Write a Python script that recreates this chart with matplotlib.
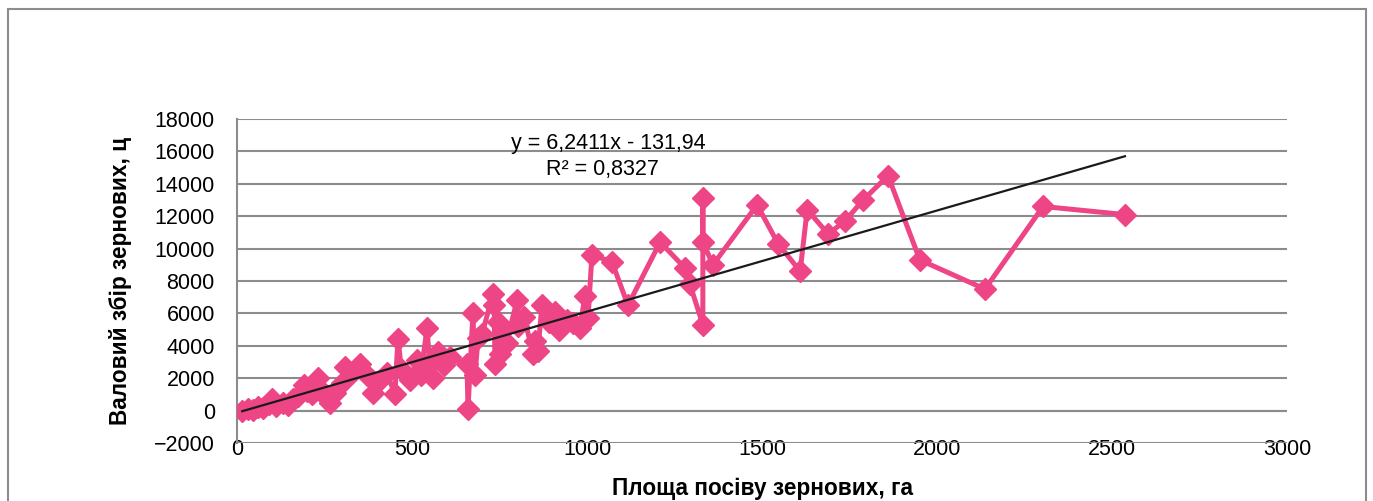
import numpy as np
import matplotlib.pyplot as plt
from matplotlib.patches import Rectangle

plt.rcParams['font.family'] = ['Liberation Sans', 'DejaVu Sans']

# площа посіву (га) і валовий збір (ц), у порядку рядків таблиці
area = [15, 30, 45, 60, 75, 90, 100, 110, 130, 145, 160, 175, 190, 200, 215,
        231, 240, 250, 266, 280, 300,
        309, 330, 351, 370, 389, 400, 429, 451, 460, 470, 494, 514, 525, 543,
        550, 560, 574, 590, 609,
        657, 660, 674, 680, 689, 700, 731, 735, 737, 745, 750, 760, 770, 800,
        803, 820, 846, 850, 860, 871, 890, 909, 920, 943, 960, 980, 994, 1003,
        1014,
        1071, 1117, 1209, 1280, 1294, 1331, 1331, 1331, 1360, 1486, 1546, 1609,
        1629, 1689, 1737, 1789, 1860, 1951, 2137, 2303, 2537]
harvest = [0, 100, 50, 200, 150, 400, 700, 300, 450, 350, 700, 900, 1600, 1200,
           1000, 2000, 1300, 900, 500, 1100, 1700,
           2700, 2400, 2900, 2200, 1100, 1700, 2300, 1000, 4450, 2500, 1900,
           3100, 2200, 5100, 3000, 2000, 3600, 2800, 3300,
           2900, 100, 6000, 2200, 4500, 4700, 7200, 6500, 2900, 5500, 3500,
           5000, 4200, 6800, 5200, 5800, 3500, 4300, 3700, 6500, 5500, 6100,
           5000, 5600, 5400, 5100, 7100, 5700, 9600,
           9200, 6500, 10400, 8800, 7800, 5300, 13100, 10400, 9000, 12700,
           10300, 8600, 12400, 10900, 11700, 13000, 14500, 9300, 7500, 12600,
           12100]

# лінійний тренд (з підпису на діаграмі)
slope = 6.2411
intercept = -131.94

W, H = 1373, 501
fig = plt.figure(figsize=(W / 100, H / 100), dpi=100)
ax = fig.add_axes([237 / W, 1 - 443 / H, (1287 - 237) / W, (443 - 119) / H])

grid_c = '#8c8c8c'
ax.plot(area, harvest, color='#ED4585', lw=3.6, marker='D', ms=11,
        mec='#ED4585', mfc='#ED4585', zorder=3)

tx = np.array([min(area), max(area)])
ax.plot(tx, slope * tx + intercept, color='#1a1a1a', lw=1.6, zorder=4)

ax.set_xlim(0, 3000)
ax.set_ylim(-2000, 18000)
ax.set_xticks(np.arange(0, 3001, 500))
ax.set_yticks(np.arange(-2000, 18001, 2000))
ax.yaxis.grid(True, color=grid_c, lw=1.5)
ax.set_axisbelow(True)
ax.axhline(0, color=grid_c, lw=1.5, zorder=1)

for s in ['top', 'right', 'bottom']:
    ax.spines[s].set_visible(False)
ax.spines['left'].set_color(grid_c)
ax.spines['left'].set_linewidth(1.5)

ax.tick_params(axis='y', length=0, pad=16, labelsize=15.5)
ax.tick_params(axis='x', length=0, pad=-3, labelsize=15.5)

fig.text(608 / W, 1 - 144 / H, 'y = 6,2411x - 131,94', ha='center',
         va='center', fontsize=15.5)
fig.text(602 / W, 1 - 170 / H, 'R² = 0,8327', ha='center', va='center',
         fontsize=15.5)

fig.text(762 / W, 1 - 489 / H, 'Площа посіву зернових, га', ha='center',
         va='center', fontsize=16.3, fontweight='bold')
fig.text(120 / W, 1 - 281 / H, 'Валовий збір зернових, ц', ha='center',
         va='center', rotation=90, fontsize=16.3, fontweight='bold')

fig.patches.append(Rectangle((8 / W, -0.05), (1366 - 8) / W, 1 - 9 / H + 0.05,
                             transform=fig.transFigure, fill=False,
                             ec='#8c8c8c', lw=1.5))

fig.savefig('out.png', dpi=100)
